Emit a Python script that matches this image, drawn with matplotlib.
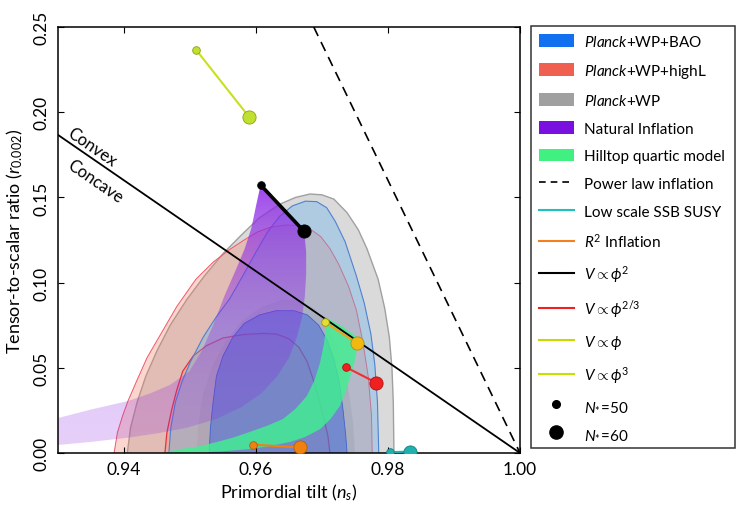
import numpy as np
import matplotlib
matplotlib.use('Agg')
import matplotlib.pyplot as plt
from matplotlib.patches import Polygon, Patch
from matplotlib.lines import Line2D

plt.rcParams['font.family'] = ['Lato', 'DejaVu Sans']
plt.rcParams['mathtext.fontset'] = 'custom'
plt.rcParams['mathtext.rm'] = 'Lato'
plt.rcParams['mathtext.it'] = 'Lato:italic'
plt.rcParams['mathtext.bf'] = 'Lato:bold'

# ---------------- data ----------------
# Planck+WP (grey) 95% / 68%
grey95_ns = [0.9405, 0.9410, 0.9420, 0.9433, 0.9450, 0.9470, 0.9495, 0.9522, 0.9550, 0.9578, 0.9605, 0.9636,
             0.9660, 0.9682, 0.9700, 0.9718, 0.9738, 0.9755, 0.9768, 0.9785, 0.9795, 0.9802, 0.9806, 0.9808, 0.9809]
grey95_r = [0.0, 0.015, 0.030, 0.045, 0.060, 0.075, 0.090, 0.104, 0.117, 0.128, 0.138, 0.146,
            0.150, 0.152, 0.1515, 0.149, 0.141, 0.131, 0.120, 0.102, 0.085, 0.068, 0.050, 0.030, 0.0]
grey68_ns = [0.9510, 0.9513, 0.9520, 0.9535, 0.9555, 0.9580, 0.9610, 0.9640, 0.9665, 0.9688, 0.9705, 0.9720,
             0.9732, 0.9741, 0.9747, 0.9750]
grey68_r = [0.0, 0.018, 0.035, 0.052, 0.066, 0.078, 0.086, 0.090, 0.0895, 0.085, 0.077, 0.066,
            0.052, 0.035, 0.018, 0.0]

# Planck+WP+highL (red) 95% / 68%
red95_ns = [0.9385, 0.9390, 0.9398, 0.9406, 0.9420, 0.9435, 0.9453, 0.9480, 0.9509, 0.9535, 0.9561, 0.9582,
            0.9602, 0.9622, 0.9645, 0.9665, 0.9682, 0.9698, 0.9712, 0.9725, 0.9740, 0.9752, 0.9762, 0.9770,
            0.9775, 0.9776]
red95_r = [0.0, 0.012, 0.022, 0.0305, 0.043, 0.056, 0.068, 0.086, 0.102, 0.112, 0.1197, 0.125,
           0.1297, 0.1325, 0.1338, 0.1335, 0.1315, 0.127, 0.120, 0.111, 0.098, 0.084, 0.065, 0.045,
           0.022, 0.0]
red68_ns = [0.9462, 0.9465, 0.9472, 0.9480, 0.9489, 0.9505, 0.9525, 0.9550, 0.9580, 0.9610, 0.9631, 0.9650,
            0.9665, 0.9677, 0.9686, 0.9695, 0.9703, 0.9709, 0.9712]
red68_r = [0.0, 0.012, 0.025, 0.037, 0.048, 0.057, 0.063, 0.0675, 0.0695, 0.0702, 0.0698, 0.067,
           0.062, 0.054, 0.044, 0.032, 0.020, 0.010, 0.0]

# Planck+WP+BAO (blue) 95% / 68%
blue95_ns = [0.9468, 0.9471, 0.9478, 0.9488, 0.9500, 0.9520, 0.9540, 0.9560, 0.9580, 0.9600, 0.9618, 0.9636,
             0.9655, 0.9675, 0.9692, 0.9707, 0.9720, 0.9735, 0.9752, 0.9764, 0.9774, 0.9780, 0.9784, 0.9786]
blue95_r = [0.0, 0.015, 0.030, 0.042, 0.053, 0.068, 0.080, 0.0904, 0.104, 0.118, 0.130, 0.139,
            0.145, 0.1478, 0.1475, 0.144, 0.136, 0.124, 0.104, 0.088, 0.070, 0.052, 0.030, 0.0]
blue68_ns = [0.9529, 0.9531, 0.9535, 0.9540, 0.9550, 0.9565, 0.9582, 0.9605, 0.9630, 0.9658, 0.9678, 0.9695,
             0.9708, 0.9718, 0.9726, 0.9732, 0.9736, 0.9738]
blue68_r = [0.0, 0.015, 0.030, 0.045, 0.057, 0.068, 0.076, 0.081, 0.0835, 0.0835, 0.081, 0.075,
            0.066, 0.055, 0.042, 0.025, 0.010, 0.0]

# Natural inflation band
natural_ns = [0.9607, 0.9673, 0.9676, 0.9676, 0.9674, 0.9670, 0.9662, 0.9650, 0.9632, 0.9608, 0.9578, 0.9540,
              0.9495, 0.9450, 0.9406, 0.9350, 0.9300,
              0.9300, 0.9350, 0.9406, 0.9440, 0.9470, 0.9499, 0.9518, 0.9535, 0.9552, 0.9570, 0.9583, 0.9593,
              0.9600]
natural_r = [0.1573, 0.1300, 0.118, 0.105, 0.092, 0.080, 0.068, 0.056, 0.045, 0.035, 0.027, 0.020,
             0.0148, 0.0115, 0.009, 0.0065, 0.0047,
             0.0205, 0.0255, 0.0305, 0.035, 0.040, 0.048, 0.060, 0.075, 0.092, 0.108, 0.120, 0.132,
             0.145]

# Hilltop quartic band
hilltop_ns = [0.9705, 0.9730, 0.9753, 0.9753, 0.9749, 0.9743, 0.9736, 0.9727, 0.9713, 0.9697, 0.9675, 0.9652,
              0.9620, 0.9590, 0.9550, 0.9500, 0.9460,
              0.9480, 0.9515, 0.9541, 0.9565, 0.9590, 0.9617, 0.9641, 0.9660, 0.9677, 0.9689, 0.9697, 0.9703,
              0.9706]
hilltop_r = [0.0798, 0.0745, 0.068, 0.061, 0.053, 0.045, 0.036, 0.0276, 0.020, 0.014, 0.0095, 0.0065,
             0.004, 0.0023, 0.001, 0.0, 0.0,
             0.002, 0.004, 0.0065, 0.009, 0.0123, 0.016, 0.020, 0.026, 0.0334, 0.043, 0.053, 0.064,
             0.0745]

# Reference lines
powerlaw_ns = [0.96875, 1.0]
powerlaw_r = [0.25, 0.0]
convex_ns = [0.93, 1.0]
convex_r = [0.18667, 0.0]

# Model predictions (N*=50, N*=60)
phi2_ns, phi2_r = [0.9607, 0.9673], [0.1573, 0.1300]
phi23_ns, phi23_r = [0.9737, 0.9782], [0.0502, 0.0413]
phi1_ns, phi1_r = [0.9704, 0.9753], [0.0769, 0.0645]
phi3_ns, phi3_r = [0.9509, 0.9590], [0.2367, 0.1970]
r2_ns, r2_r = [0.9596, 0.9666], [0.0049, 0.0033]
susy_ns, susy_r = [0.9803, 0.9833], [0.0005, 0.0008]

xticks = [0.94, 0.96, 0.98, 1.00]
yticks = [0.00, 0.05, 0.10, 0.15, 0.20, 0.25]

legend_labels = [r'$\mathit{Planck}$+WP+BAO', r'$\mathit{Planck}$+WP+highL', r'$\mathit{Planck}$+WP',
                 'Natural Inflation', 'Hilltop quartic model', 'Power law inflation',
                 'Low scale SSB SUSY', r'$R^2$ Inflation', r'$V\propto\phi^2$', r'$V\propto\phi^{2/3}$',
                 r'$V\propto\phi$', r'$V\propto\phi^3$', r'$N_{*}\!=\!50$', r'$N_{*}\!=\!60$']

# ---------------- figure ----------------
fig = plt.figure(figsize=(7.37, 5.10), dpi=100)
ax = fig.add_axes([58/737, 56/510, 462/737, 426/510])
ax.set_xlim(0.93, 1.0)
ax.set_ylim(0.0, 0.25)


def fill(ns, r, color, alpha, z, ec='none', lw=0):
    p = Polygon(np.column_stack([ns, r]), closed=True, facecolor=color, alpha=alpha,
                edgecolor='none', zorder=z)
    ax.add_patch(p)
    if ec != 'none':
        ax.plot(ns, r, color=ec, lw=lw, zorder=z + 0.05)
    return p


fill(grey95_ns, grey95_r, '#a8a8a8', 0.42, 1, ec='#a0a0a0', lw=1.0)
fill(grey68_ns, grey68_r, '#a8a8a8', 0.40, 1.1)
fill(red95_ns, red95_r, '#f08068', 0.32, 1.2, ec='#f05868', lw=0.7)
fill(red68_ns, red68_r, '#f08068', 0.28, 1.3, ec='#e83040', lw=0.9)
fill(blue95_ns, blue95_r, '#60b0f0', 0.35, 1.4, ec='#5080d0', lw=0.8)
fill(blue68_ns, blue68_r, '#3060e0', 0.45, 1.5, ec='#4060d0', lw=0.6)

# natural inflation: purple band, more transparent towards the lower left
nat_poly = Polygon(np.column_stack([natural_ns, natural_r]), closed=True, facecolor='none',
                   edgecolor='none', zorder=2)
ax.add_patch(nat_poly)
gy = np.linspace(0, 0.17, 200)
gx = np.linspace(0.93, 0.97, 200)
GX, GY = np.meshgrid(gx, gy)
alpha = np.clip(0.22 + 0.62 * (GY / 0.155) ** 2, 0, 0.85)
img = np.zeros(GX.shape + (4,))
img[..., 0] = 0.55
img[..., 1] = 0.16
img[..., 2] = 0.90
img[..., 3] = alpha
im = ax.imshow(img, extent=[0.93, 0.97, 0.0, 0.17], origin='lower', aspect='auto',
               interpolation='bilinear', zorder=2)
im.set_clip_path(nat_poly)

fill(hilltop_ns, hilltop_r, '#40f090', 0.82, 2.5)

# reference lines
ax.plot(powerlaw_ns, powerlaw_r, color='black', lw=1.2, dashes=(6, 4), zorder=3)
ax.plot(convex_ns, convex_r, color='black', lw=1.3, zorder=3)
ax.text(0.9352, 0.1800, 'Convex', rotation=-34.5, ha='center', va='center',
        rotation_mode='anchor', fontsize=12, zorder=4)
ax.text(0.9357, 0.1595, 'Concave', rotation=-34.5, ha='center', va='center',
        rotation_mode='anchor', fontsize=12, zorder=4)


def model(ns, r, lc, c50, c60, lw=1.5, ec=None):
    ax.plot(ns, r, color=lc, lw=lw, zorder=5, clip_on=True)
    ax.plot(ns[0], r[0], 'o', ms=5.5, color=c50, mec=ec or c50, mew=0.6, zorder=6)
    ax.plot(ns[1], r[1], 'o', ms=9.5, color=c60, mec=ec or c60, mew=0.6, zorder=6)


model(phi3_ns, phi3_r, '#c8e020', '#c0e030', '#c0e030', ec='#90a010')
model(phi2_ns, phi2_r, 'black', 'black', 'black', lw=2.6)
model(phi1_ns, phi1_r, '#f0a020', '#e0e030', '#f0b810', ec='#b09010')
model(phi23_ns, phi23_r, '#f03030', '#f02020', '#f02020', ec='#b01010')
model(r2_ns, r2_r, '#f08010', '#f08010', '#f08010', ec='#b06010')
model(susy_ns, susy_r, '#20b0b0', '#20b0b0', '#20b0b0', ec='#108080')

# axes styling
ax.set_xticks(xticks)
ax.set_xticklabels(['%.2f' % v for v in xticks])
ax.set_yticks(yticks)
ax.set_yticklabels(['%.2f' % v for v in yticks], rotation=90, va='center')
ax.tick_params(direction='in', length=4, width=0.8, top=True, right=True, labelsize=12.5, pad=6)
for s in ax.spines.values():
    s.set_linewidth(1.1)
ax.set_xlabel(r'Primordial tilt ($n_s$)', fontsize=13, labelpad=3)
ax.set_ylabel(r'Tensor-to-scalar ratio ($r_{0.002}$)', fontsize=13, labelpad=6)

# legend
handles = [
    Patch(facecolor='#1070f0', edgecolor='none'),
    Patch(facecolor='#f06050', edgecolor='none'),
    Patch(facecolor='#a0a0a0', edgecolor='none'),
    Patch(facecolor='#7a10e0', edgecolor='none'),
    Patch(facecolor='#40f080', edgecolor='none'),
    Line2D([], [], color='black', lw=1.2, dashes=(4, 3)),
    Line2D([], [], color='#20c0c0', lw=1.5),
    Line2D([], [], color='#f08020', lw=1.5),
    Line2D([], [], color='black', lw=1.5),
    Line2D([], [], color='#f02020', lw=1.5),
    Line2D([], [], color='#c8d800', lw=1.5),
    Line2D([], [], color='#c8e000', lw=1.5),
    Line2D([], [], color='black', marker='o', ms=5.5, lw=0),
    Line2D([], [], color='black', marker='o', ms=9.5, lw=0),
]
leg = fig.legend(handles, legend_labels, loc='upper left',
                 bbox_to_anchor=(531/737, 56/510, 204/737, 427/510), bbox_transform=fig.transFigure,
                 mode='expand', borderaxespad=0, fancybox=False, frameon=True, edgecolor='black',
                 fontsize=11, labelspacing=0.86, handlelength=2.3, handleheight=0.9,
                 handletextpad=0.7, borderpad=0.5)
leg.get_frame().set_linewidth(1.1)

fig.savefig('out.png', dpi=100)
